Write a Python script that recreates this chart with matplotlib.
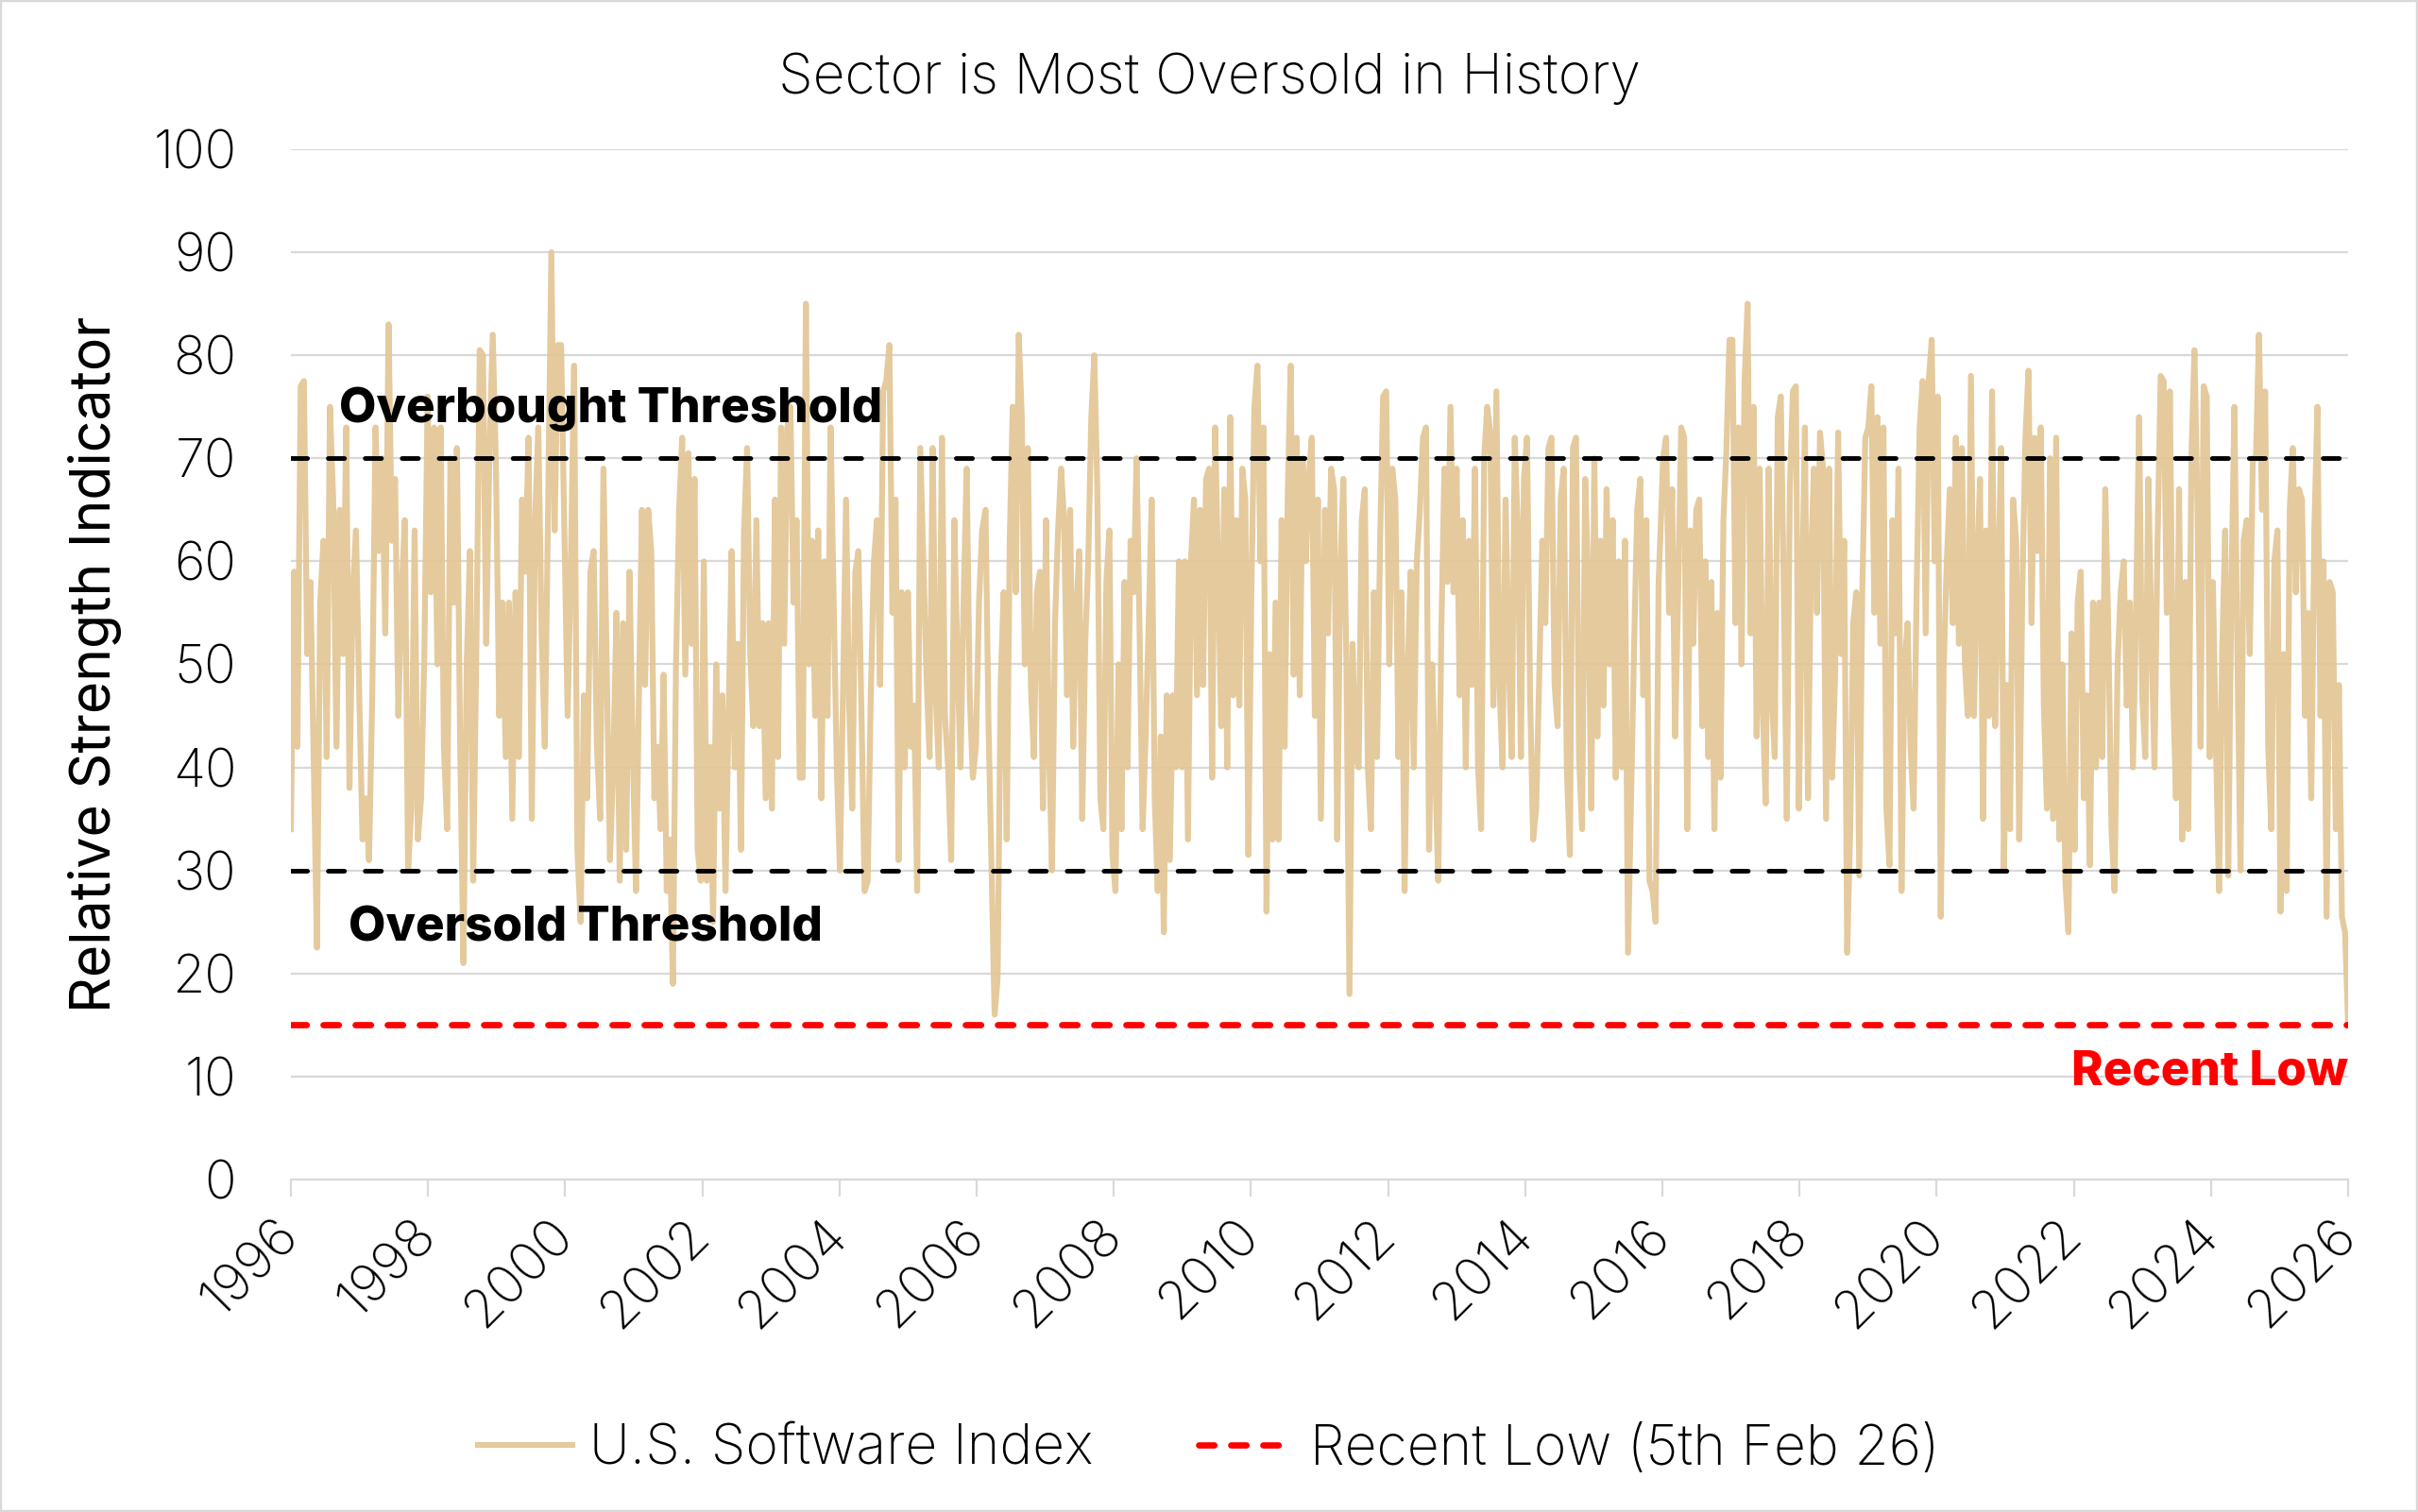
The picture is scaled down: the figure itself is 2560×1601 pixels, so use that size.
#Importamos las librerías necesarias
import numpy as np
import matplotlib.pyplot as plt
from matplotlib.lines import Line2D
from matplotlib.patches import Rectangle

plt.rcParams['font.family'] = ['Inter', 'DejaVu Sans']
plt.rcParams['font.weight'] = 'light'

# %% Textos del gráfico
titulo = 'Sector is Most Oversold in History'
etiqueta_y = 'Relative Strength Indicator'
nombre_serie = 'U.S. Software Index'
nombre_minimo = 'Recent Low (5th Feb 26)'
texto_sobrecompra = 'Overbought Threshold'
texto_sobreventa = 'Oversold Threshold'
texto_minimo = 'Recent Low'

# Niveles de referencia
sobrecompra = 70
sobreventa = 30
minimo_reciente = 15
anios_ticks = list(range(1996, 2027, 2))

# %% Valores del RSI, por tramos (año inicial, año final)
tramo_1996 = (1996.00, 2001.08)
rsi_1996 = [34, 59, 42, 77, 77.5, 51, 58, 41, 22.5, 56, 62, 41, 75, 66, 42, 65, 51, 73, 38, 57,
            63, 47, 33, 37, 31, 47, 73, 61, 70, 53, 83, 62, 68, 45, 57, 64, 30, 36, 63, 33,
            37, 51, 76, 57, 73, 50, 73, 42, 34, 70, 56, 71, 42, 21, 50, 61, 29, 52, 80.5, 80,
            52, 71, 82, 69, 45, 56, 41, 56, 35, 57, 41, 66, 59, 72, 35, 64, 73, 53, 42, 65,
            90, 63, 81, 81, 63, 45, 60, 79, 32, 25, 47, 37, 59, 61, 42, 35, 69, 50, 31, 40,
            55, 29, 54, 32, 59, 42, 28, 49]

tramo_2001 = (2001.12, 2006.08)
rsi_2001 = [65, 48, 65, 61, 37, 42, 34, 49, 28, 33, 19, 50, 65, 72, 49, 70.5, 52, 68, 32, 29,
            60, 29, 42, 25, 50, 36, 47, 28, 45, 61, 40, 52, 32, 63, 71, 51, 44, 64, 44, 54,
            37, 54, 36, 66, 41, 73, 52, 73, 75, 56, 64, 39, 39, 85, 50, 62, 45, 63, 37, 60,
            45, 73, 56, 40, 30, 47, 66, 46, 36, 59, 61, 45, 28, 29, 47, 60, 64, 48, 76.5, 77.5,
            81, 55, 66, 31, 57, 40, 57, 42, 46, 28, 71, 60, 49, 41, 71, 47, 40, 72, 45, 40,
            31, 64, 51, 40, 56, 69, 47, 39, 42, 56, 63]

tramo_2006 = (2006.13, 2011.02)
rsi_2006 = [65, 44, 30, 16, 19.5, 48, 57, 33, 62, 75, 57, 82, 74, 50, 71, 48, 41, 57, 59, 36,
            64, 42, 30, 54, 63, 69, 64, 47, 65, 42, 55, 61, 35, 52, 60, 74, 80, 67, 37, 34,
            58, 63, 31.5, 28, 50, 34, 58, 40, 62, 57, 70, 53, 34, 43, 54, 66, 37, 28, 43, 24,
            47, 31, 47, 40, 60, 40, 60, 33, 60, 66, 47, 65, 48, 68, 69, 39, 73, 59, 44, 67,
            40, 74, 47, 64, 46, 69, 66, 31.5, 57, 75, 79, 60, 73, 26, 51, 33, 56, 33, 64, 42,
            66, 79, 49, 72, 47, 70, 60, 68, 72, 45, 66, 35]

tramo_2011 = (2011.08, 2015.99)
rsi_2011 = [65, 53, 69, 67, 33, 59, 68, 50, 18, 52, 41, 40, 64, 67, 40, 34, 57, 41, 62, 76,
            76.5, 50, 69, 66, 41, 57, 28, 49, 59, 40, 60, 65, 72, 73, 32, 50, 40, 29, 53, 69,
            58, 75, 57, 69, 47, 64, 40, 62, 48, 69, 40, 34, 70, 75, 72.5, 46, 76.5, 48, 40, 66,
            51, 41, 72, 63, 41, 68, 72, 47, 33, 36, 49, 62, 54, 71, 72, 48, 44, 66, 69, 40,
            31.5, 71, 72, 41, 34, 68, 58, 36, 70, 43, 62, 46, 67, 50, 64, 39, 60, 40, 62, 22,
            37, 52, 65, 68, 47, 64, 29, 28, 25, 58, 66]

tramo_2016 = (2016.01, 2020.94)
rsi_2016 = [70, 72, 55, 67, 43, 57, 73, 72, 34, 63, 52, 65, 66, 44, 60, 41, 58, 34, 55, 39,
            64, 71, 81.5, 81.5, 54, 73, 50, 77.5, 85, 53, 75, 43, 69, 46, 36.5, 69, 47, 41, 74, 76,
            57, 35, 67, 76.5, 77, 36, 56, 73, 37, 60, 69, 55, 72.5, 69, 35, 69, 39, 49, 72.5, 51,
            62, 22, 34, 54, 57, 29.5, 57, 72, 73, 77, 55, 74, 52, 73, 36, 30.5, 64, 53, 69, 28,
            50, 54, 42, 36, 57, 73, 77.5, 53, 77.5, 81.5, 60, 76, 25.5, 50, 60, 67, 54, 72, 52, 71,
            50, 45, 78, 45, 59, 68, 35, 63, 45, 76.5, 44, 58, 71]

tramo_2021 = (2020.98, 2026.00)
rsi_2021 = [30, 48, 34, 66, 62, 33, 57, 72, 78.5, 54, 72, 61, 73, 46, 36, 70, 35, 72, 33, 50,
            29, 24, 53, 32, 56, 59, 37, 47, 30.5, 56, 40, 56, 41, 67, 53, 34, 28, 50, 57, 60,
            46, 56, 40, 55, 74, 47, 41, 68, 53, 40, 62, 78, 77.5, 55, 76.5, 48, 37, 67, 33, 58,
            34, 70, 80.5, 65, 42, 77, 76, 41, 58, 42, 28, 51, 63, 29.5, 57, 75, 50, 30, 62, 64,
            51, 70, 70, 82, 65, 76.5, 42, 34, 60, 63, 26, 51, 28, 65, 71, 57, 67, 66, 45, 55,
            37, 63, 75, 45, 60, 25.5, 58, 57, 34, 48, 25.5, 24, 15]

tramos = [(tramo_1996, rsi_1996), (tramo_2001, rsi_2001), (tramo_2006, rsi_2006),
          (tramo_2011, rsi_2011), (tramo_2016, rsi_2016), (tramo_2021, rsi_2021)]

# Se arma la serie completa (fechas en años decimales, espaciadas dentro de cada tramo)
anios = np.concatenate([np.linspace(t[0], t[1], len(v)) for t, v in tramos])
rsi = np.concatenate([np.array(v, dtype=float) for t, v in tramos])

# %% Figura
fig = plt.figure(figsize=(16, 10.00625), dpi=160)
fig.patch.set_facecolor('white')
ax = fig.add_axes([0.1203, 0.2199, 0.8508, 0.6814])

ax.plot(anios, rsi, color='#E2C593', alpha=0.9, lw=2.8, zorder=2)
ax.axhline(sobrecompra, color='black', lw=2.2, dashes=(3.5, 4.5), dash_capstyle='round', zorder=3)
ax.axhline(sobreventa, color='black', lw=2.2, dashes=(3.5, 4.5), dash_capstyle='round', zorder=3)
ax.axhline(minimo_reciente, color='#FF0000', lw=3.0, dashes=(2.45, 2.65), dash_capstyle='round', zorder=4)

ax.text(1996.70, 74.8, texto_sobrecompra, fontsize=23, fontweight='heavy', ha='left', va='center', zorder=5)
ax.text(1996.84, 24.4, texto_sobreventa, fontsize=23, fontweight='heavy', ha='left', va='center', zorder=5)
ax.text(2026.0, 10.45, texto_minimo, fontsize=23, fontweight='heavy', color='#FF0000',
        ha='right', va='center', zorder=5)

ax.set_xlim(1996, 2026)
ax.set_ylim(0, 100)
ax.set_yticks(range(0, 101, 10))
ax.set_xticks(anios_ticks)
ax.set_xticklabels([str(a) for a in anios_ticks], rotation=45, ha='right', va='center',
                   rotation_mode='anchor')
ax.grid(axis='y', color='#d9d9d9', lw=1.0, zorder=0)
ax.set_axisbelow(True)
for lado in ['top', 'right', 'left']:
    ax.spines[lado].set_visible(False)
ax.spines['bottom'].set_color('#d9d9d9')
ax.spines['bottom'].set_linewidth(1.0)
ax.tick_params(axis='y', length=0, pad=26, labelsize=25)
ax.tick_params(axis='x', length=8, width=1.0, color='#d9d9d9', pad=15, labelsize=25.5)
ax.set_ylabel(etiqueta_y, fontsize=26.5, labelpad=15)

fig.text(0.5, 0.948, titulo, ha='center', va='center', fontsize=26.5)

manijas = [Line2D([], [], color='#E2C593', alpha=0.9, lw=2.8),
           Line2D([], [], color='#FF0000', lw=3.0, dashes=(2.45, 2.65), dash_capstyle='round')]
fig.legend(manijas, [nombre_serie, nombre_minimo], loc='center', bbox_to_anchor=(0.5, 0.041),
           ncol=2, frameon=False, fontsize=26.5, handlelength=1.7, handletextpad=0.3,
           columnspacing=1.9)

fig.patches.append(Rectangle((0, 0), 1, 1, transform=fig.transFigure, fill=False,
                             edgecolor='#d9d9d9', lw=2))

fig.savefig('out.png', dpi=160)
